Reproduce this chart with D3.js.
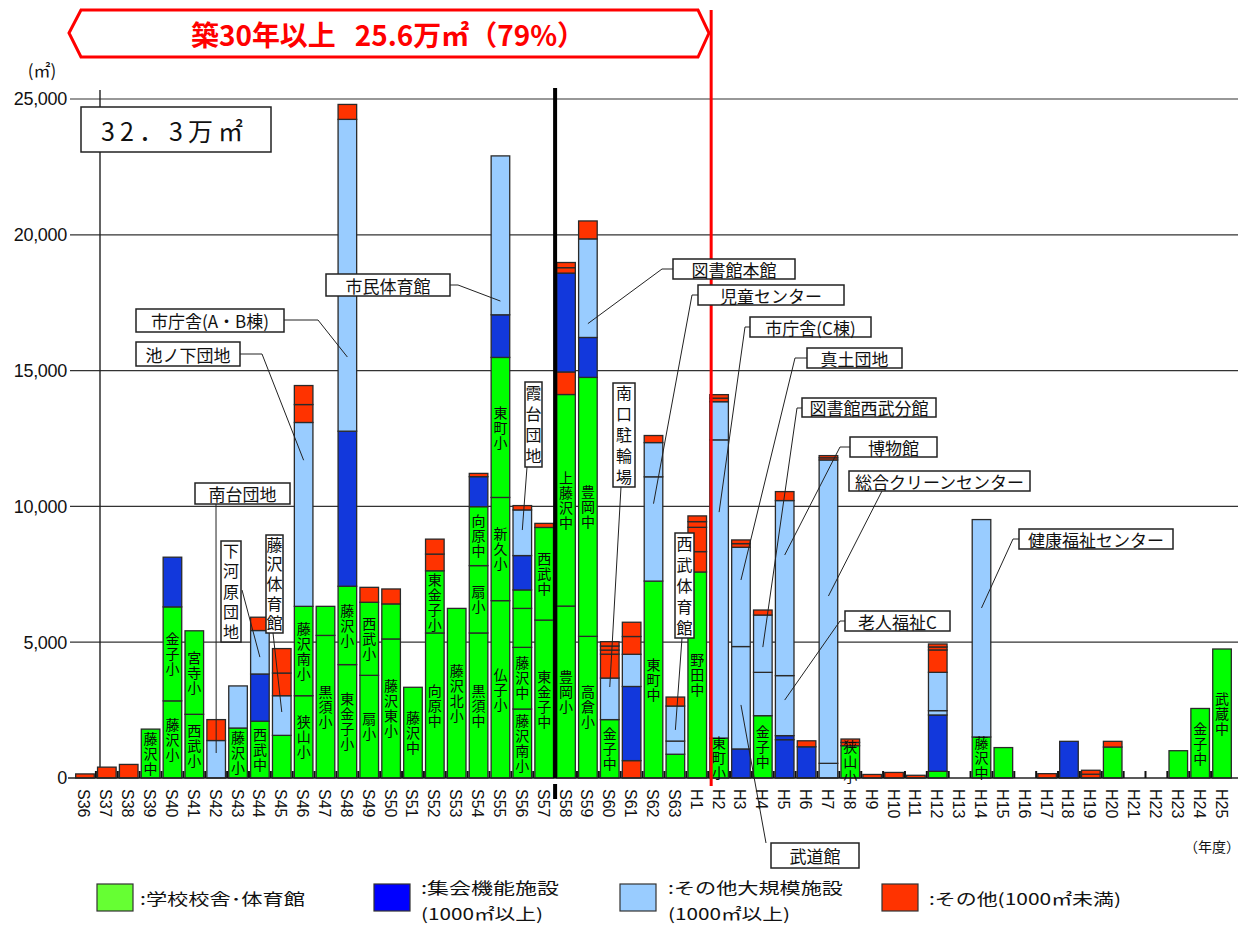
<!DOCTYPE html>
<html><head><meta charset="utf-8">
<script src="https://cdn.jsdelivr.net/npm/d3@7"></script>
<style>body{margin:0;background:#fff}svg{display:block}.vt{writing-mode:vertical-rl;text-orientation:upright}</style>
</head><body>
<svg id="c" width="1248" height="927"></svg>
<script>
// ---------------- DATA ----------------
const years = ["S36","S37","S38","S39","S40","S41","S42","S43","S44","S45","S46","S47","S48","S49","S50","S51","S52","S53","S54","S55","S56","S57","S58","S59","S60","S61","S62","S63",
  "H1","H2","H3","H4","H5","H6","H7","H8","H9","H10","H11","H12","H13","H14","H15","H16","H17","H18","H19","H20","H21","H22","H23","H24","H25"];
const yTicks = [0, 5000, 10000, 15000, 20000, 25000];
const typeNames = ["学校校舎･体育館", "集会機能施設", "その他大規模施設", "その他"];
// buildings: [year, type(0 school,1 assembly,2 other large,3 other small), area m2, label] stacked bottom -> top
const buildingsShowa = [
  ["S36",3,150],["S37",3,400],["S38",3,500],
  ["S39",0,1800,"藤沢中"],
  ["S40",0,2840,"藤沢小"],["S40",0,3460,"金子小"],["S40",1,1830],
  ["S41",0,2345,"西武小"],["S41",0,3075,"宮寺小"],
  ["S42",2,1380],["S42",3,770],
  ["S43",0,1840,"藤沢小"],["S43",2,1550],
  ["S44",0,2090,"西武中"],["S44",1,1740],["S44",2,1600],["S44",3,490],
  ["S45",0,1570],["S45",2,1460],["S45",3,835],["S45",3,900],
  ["S46",0,3030,"狭山小"],["S46",0,3290,"藤沢南小"],["S46",2,6770],["S46",3,660],["S46",3,700],
  ["S47",0,5250,"黒須小"],["S47",0,1070],
  ["S48",0,4175,"東金子小"],["S48",0,2885,"藤沢小"],["S48",1,5710],["S48",2,11480],["S48",3,550],
  ["S49",0,3780,"扇小"],["S49",0,2690,"西武小"],["S49",3,550],
  ["S50",0,5120,"藤沢東小"],["S50",0,1290],["S50",3,550],
  ["S51",0,3340,"藤沢中"],
  ["S52",0,5340,"向原中"],["S52",0,2290,"東金子小"],["S52",3,615],["S52",3,550],
  ["S53",0,6245,"藤沢北小"],
  ["S54",0,5340,"黒須中"],["S54",0,2480,"扇小"],["S54",0,2170,"向原中"],["S54",1,1105],["S54",3,120],
  ["S55",0,6530,"仏子小"],["S55",0,3800,"新久小"],["S55",0,5155,"東町小"],["S55",1,1570],["S55",2,5850],
  ["S56",0,2540,"藤沢南小"],["S56",0,2270,"藤沢中"],["S56",0,1435],["S56",0,680],["S56",1,1265],["S56",2,1680],["S56",3,160],
  ["S57",0,5815,"東金子中"],["S57",0,3410,"西武中"],["S57",3,150],
  ["S58",0,6330,"豊岡小"],["S58",0,7790,"上藤沢中"],["S58",3,830],["S58",1,3640],["S58",3,200],["S58",3,190],
  ["S59",0,5215,"高倉小"],["S59",0,9535,"豊岡中"],["S59",1,1470],["S59",2,3630],["S59",3,660],
  ["S60",0,2150,"金子中"],["S60",2,1530],["S60",3,880],["S60",3,150],["S60",3,150],["S60",3,160],
  ["S61",3,640],["S61",1,2730],["S61",2,1185],["S61",3,655],["S61",3,525],
  ["S62",0,7250,"東町中"],["S62",2,3840],["S62",2,1260],["S62",3,260],
  ["S63",0,875],["S63",2,485],["S63",2,1290],["S63",3,330]
];
const buildingsHeisei = [
  ["H1",0,7585,"野田中"],["H1",3,750],["H1",3,895],["H1",3,210],["H1",3,210],
  ["H2",0,1470,"東町小"],["H2",2,10980],["H2",2,1405],["H2",3,130],["H2",3,130],
  ["H3",1,1070],["H3",2,3770],["H3",2,3655],["H3",3,135],["H3",3,135],
  ["H4",0,2295,"金子中"],["H4",2,1595],["H4",2,2110],["H4",3,185],
  ["H5",1,1410],["H5",1,150],["H5",2,2210],["H5",2,6445],["H5",3,330],
  ["H6",1,1150],["H6",3,220],
  ["H7",2,540],["H7",2,11170],["H7",3,80],["H7",3,80],
  ["H8",0,1190,"狭山小"],["H8",3,120],["H8",3,125],
  ["H9",3,130],["H10",3,205],["H11",3,100],
  ["H12",0,245],["H12",1,2075],["H12",2,160],["H12",2,1410],["H12",3,825],["H12",3,110],["H12",3,110],
  ["H14",0,1510,"藤沢中"],["H14",2,8005],
  ["H15",0,1120],
  ["H17",3,160],
  ["H18",1,1350],
  ["H19",3,140],["H19",3,145],
  ["H20",0,1140],["H20",3,210],
  ["H23",0,1005],
  ["H24",0,2560,"金子中"],
  ["H25",0,4750,"武蔵中"]
];
// callouts: text, target year, target value
const calloutTexts = ["市庁舎(A・B棟)","池ノ下団地","市民体育館","南台団地","下河原団地","藤沢体育館","霞台団地","南口駐輪場","西武体育館",
  "図書館本館","児童センター","市庁舎(C棟)","真土団地","図書館西武分館","博物館","総合クリーンセンター","老人福祉C","健康福祉センター","武道館"];
const calloutYears  = ["S48","S46","S55","S42","S44","S45","S56","S60","S63","S59","S62","H2","H3","H4","H5","H7","H5","H14","H3"];
const calloutValues = [15500,11700,17560,920,4450,2430,9130,3350,1770,16730,10100,9790,7290,4820,8210,6700,2870,6260,2690];
const bannerText = "築30年以上\u00a0\u00a0\u00a025.6万㎡（79%）";
const totalText = "32．3万㎡";
const unitText = "(㎡)";
const yearUnitText = "（年度）";

// ---------------- LAYOUT ----------------
const JP = "'Noto Sans CJK JP','Noto Sans',sans-serif";
const LAT = "'Liberation Sans',Arial,sans-serif";
const colors = ["#00ff00", "#1238dc", "#99ccff", "#ff3300"];
const legendColors = ["#66ff33", "#0000ff", "#99ccff", "#ff3300"];
// callout boxes: [x, y, w, h, vertical?] and elbow points
const calloutBoxes = [
  [136,309,148,23,0],[136,342,104,24,0],[326,274,124,22,0],[195,483,95,21,0],
  [221,541,20,101,1],[266,535,17,98,1],[525,382,17,85,1],[613,383,22,104,1],[675,533,19,105,1],
  [673,259,122,20,0],[698,285,146,20,0],[750,317,121,20,0],[807,348,95,20,0],[802,398,134,19,0],
  [850,437,87,20,0],[849,471,181,20,0],[845,611,105,20,0],[1019,529,154,20,0],[771,843,88,25,0]
];
const calloutElbows = [
  [[284,320],[318,320]],[[240,354],[262,354]],[[450,285],[458,285]],[[216,504]],
  [[242,590]],[[273,633]],[[527,467]],[[621,487]],[[682,638]],
  [[673,269],[662,269]],[[698,295],[692,295]],[[750,327],[745,327]],[[807,358],[795,358]],[[802,408],[797,408]],
  [[850,447],[840,447]],[[882,491]],[[845,621],[840,621]],[[1019,539],[1013,539]],[[766,843]]
];

const svg = d3.select("#c");
const x = d3.scaleBand().domain(years).range([72.4, 1234.6]).padding(0.15);
const y = d3.scaleLinear().domain([0, 25000]).range([778, 99]);
const step = x.step(), bw = x.bandwidth();
const cx = d => x(d) + bw / 2;
const boundary = d => x(d) - (step - bw) / 2;

// gridlines
svg.append("g").selectAll("line").data(yTicks.slice(1)).join("line")
  .attr("x1", 70).attr("x2", 1238).attr("y1", d => y(d)).attr("y2", d => y(d))
  .attr("stroke", "#333").attr("stroke-width", 1.2);
// y tick labels
svg.append("g").selectAll("text").data(yTicks).join("text")
  .attr("x", 67).attr("y", d => y(d)).attr("dy", "0.36em").attr("text-anchor", "end")
  .attr("font-family", LAT).attr("font-size", 18).attr("fill", "#111")
  .attr("letter-spacing", -0.3)
  .text(d => d3.format(",")(d));
svg.append("text").attr("x", 42).attr("y", 69).attr("text-anchor", "middle").attr("dominant-baseline", "central")
  .attr("font-family", JP).attr("font-size", 17).attr("fill", "#111").text(unitText);
// vertical axis line
svg.append("line").attr("x1", 100).attr("x2", 100).attr("y1", 90).attr("y2", 778)
  .attr("stroke", "#222").attr("stroke-width", 1.4);

// bars
const all = buildingsShowa.concat(buildingsHeisei);
const cum = {};
const segs = all.map(([yr, t, v, lab]) => {
  const y0 = cum[yr] || 0; cum[yr] = y0 + v;
  return {yr, t, v, lab, y0, y1: y0 + v};
});
svg.append("g").selectAll("rect").data(segs).join("rect")
  .attr("x", d => x(d.yr)).attr("width", bw)
  .attr("y", d => y(d.y1)).attr("height", d => y(d.y0) - y(d.y1))
  .attr("fill", d => colors[d.t]).attr("stroke", "#2a2a2a").attr("stroke-width", 1.3);

// baseline & category ticks
svg.append("line").attr("x1", 68).attr("x2", 1238).attr("y1", 778).attr("y2", 778)
  .attr("stroke", "#222").attr("stroke-width", 1.5);
svg.append("g").selectAll("line").data(years.slice(1)).join("line")
  .attr("x1", d => boundary(d)).attr("x2", d => boundary(d)).attr("y1", 771).attr("y2", 778)
  .attr("stroke", "#111").attr("stroke-width", 2);

// bar labels (vertical writing)
svg.append("g").selectAll("text").data(segs.filter(d => d.lab)).join("text")
  .attr("class", "vt")
  .attr("x", d => cx(d.yr)).attr("y", d => (y(d.y0) + y(d.y1)) / 2 + 0.5)
  .attr("text-anchor", "middle").attr("font-family", JP).attr("font-size", 14)
  .attr("letter-spacing", 1).attr("fill", "#0a0a0a")
  .text(d => d.lab);

// x tick labels
svg.append("g").selectAll("text").data(years).join("text")
  .attr("transform", d => `translate(${cx(d) - 1},789) rotate(90)`)
  .attr("dominant-baseline", "central").attr("font-family", LAT).attr("font-size", 16).attr("fill", "#111")
  .text(d => d);
svg.append("text").attr("x", 1212).attr("y", 846).attr("text-anchor", "middle").attr("dominant-baseline", "central")
  .attr("font-family", JP).attr("font-size", 14).attr("fill", "#111").text(yearUnitText);

// black divider (S57 | S58)
const bx = boundary("S58");
svg.append("line").attr("x1", bx).attr("x2", bx).attr("y1", 88).attr("y2", 778).attr("stroke", "#000").attr("stroke-width", 4);
svg.append("line").attr("x1", bx).attr("x2", bx).attr("y1", 784).attr("y2", 799).attr("stroke", "#000").attr("stroke-width", 4);
// red divider (H1 | H2)
const rx = boundary("H2") + 3;
svg.append("line").attr("x1", rx).attr("x2", rx).attr("y1", 10).attr("y2", 786).attr("stroke", "#ff0000").attr("stroke-width", 3);

// banner
svg.append("polygon").attr("points", "69,33 81,10 698,10 709,33 698,57 81,57")
  .attr("fill", "#fff").attr("stroke", "#ff0000").attr("stroke-width", 3);
svg.append("text").attr("x", 388).attr("y", 34).attr("dominant-baseline", "central").attr("text-anchor", "middle")
  .attr("font-family", JP).attr("font-size", 28).attr("font-weight", "bold").attr("fill", "#ff0000")
  .attr("textLength", 394).attr("lengthAdjust", "spacingAndGlyphs").text(bannerText);

// total box
svg.append("rect").attr("x", 81).attr("y", 107).attr("width", 190).attr("height", 45)
  .attr("fill", "#fff").attr("stroke", "#222").attr("stroke-width", 1.5);
svg.append("text").attr("x", 172).attr("y", 130).attr("dominant-baseline", "central").attr("text-anchor", "middle")
  .attr("font-family", JP).attr("font-size", 25).attr("fill", "#111")
  .attr("textLength", 142).attr("lengthAdjust", "spacing").text(totalText);

// callouts
const cg = svg.append("g");
calloutTexts.forEach((txt, i) => {
  const pts = calloutElbows[i].concat([[cx(calloutYears[i]), y(calloutValues[i])]]);
  cg.append("path").attr("d", d3.line()(pts)).attr("fill", "none").attr("stroke", "#222").attr("stroke-width", 1);
});
calloutTexts.forEach((txt, i) => {
  const [bx0, by0, w, h, vert] = calloutBoxes[i];
  cg.append("rect").attr("x", bx0).attr("y", by0).attr("width", w).attr("height", h)
    .attr("fill", "#fff").attr("stroke", "#222").attr("stroke-width", 1.5);
  if (vert) {
    const n = Array.from(txt).length, p = h / n;
    cg.append("text").attr("class", "vt").attr("x", bx0 + w / 2).attr("y", by0 + h / 2 + (p - 16) / 2)
      .attr("text-anchor", "middle").attr("font-family", JP).attr("font-size", 16)
      .attr("letter-spacing", p - 16).attr("fill", "#111").text(txt);
  } else {
    cg.append("text").attr("x", bx0 + w / 2).attr("y", by0 + h / 2).attr("font-family", JP).attr("font-size", 17)
      .attr("fill", "#111").attr("text-anchor", "middle").attr("dominant-baseline", "central").text(txt);
  }
});

// legend
const legendItems = [
  {x: 97,  tx: 140, lines: [":" + typeNames[0]], lens: [165]},
  {x: 374, tx: 421, lines: [":" + typeNames[1], "(1000㎡以上)"], lens: [138, 122]},
  {x: 620, tx: 668, lines: [":" + typeNames[2], "(1000㎡以上)"], lens: [175, 122]},
  {x: 882, tx: 929, lines: [":" + typeNames[3] + "(1000㎡未満)"], lens: [192]}
];
const leg = svg.append("g");
legendItems.forEach((it, i) => {
  leg.append("rect").attr("x", it.x).attr("y", 884).attr("width", 36).attr("height", 27)
    .attr("fill", legendColors[i]).attr("stroke", "#333").attr("stroke-width", 1.2);
  it.lines.forEach((ln, k) => {
    leg.append("text").attr("x", it.tx).attr("y", it.lines.length === 1 ? 898 : 887 + k * 26)
      .attr("dominant-baseline", "central").attr("font-family", JP).attr("font-size", 16).attr("fill", "#111")
      .attr("textLength", it.lens[k]).attr("lengthAdjust", "spacingAndGlyphs").text(ln);
  });
});
</script>
</body></html>
